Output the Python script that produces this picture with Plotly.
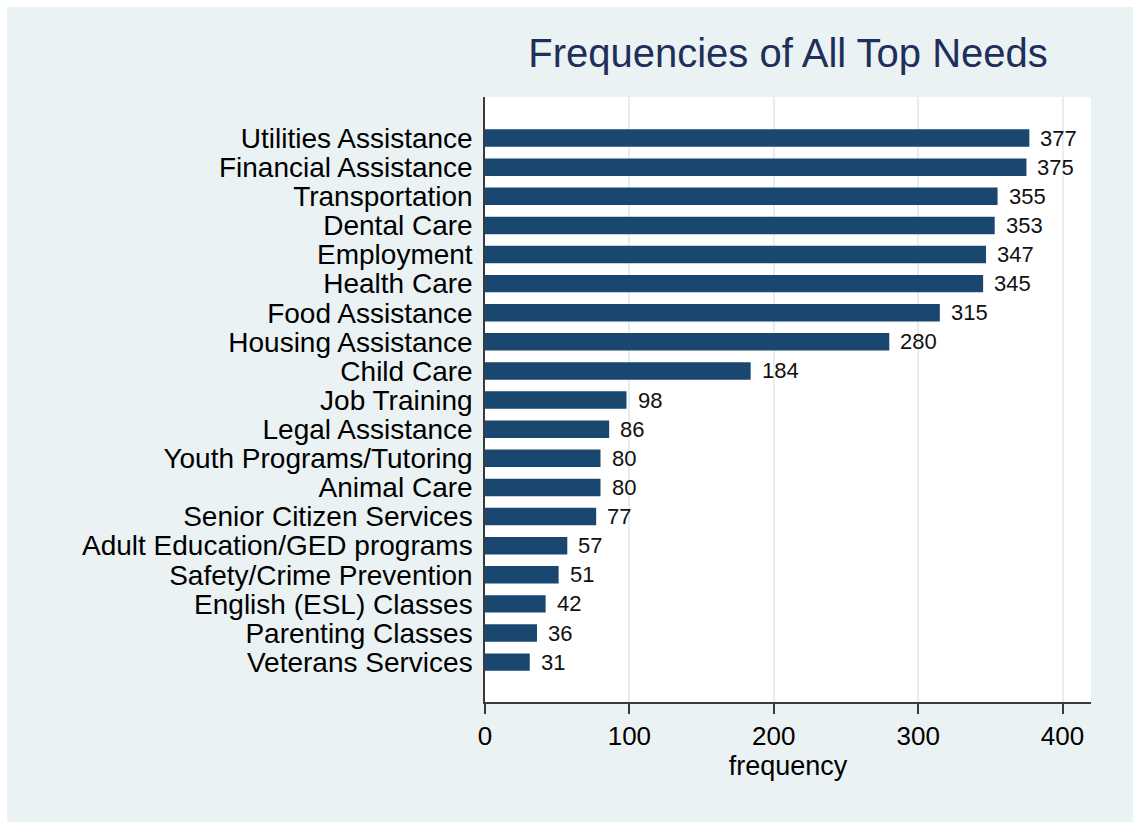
import plotly.graph_objects as go

# Needs listed from most to least frequent
needs = [
    "Utilities Assistance", "Financial Assistance", "Transportation", "Dental Care",
    "Employment", "Health Care", "Food Assistance", "Housing Assistance", "Child Care",
    "Job Training", "Legal Assistance", "Youth Programs/Tutoring", "Animal Care",
    "Senior Citizen Services", "Adult Education/GED programs", "Safety/Crime Prevention",
    "English (ESL) Classes", "Parenting Classes", "Veterans Services",
]
frequency = [377, 375, 355, 353, 347, 345, 315, 280, 184, 98, 86, 80, 80, 77, 57, 51, 42, 36, 31]
x_ticks = [0, 100, 200, 300, 400]

W, H = 1135, 822
L, R, T, B = 485, 44, 97, 120
BG = "#EAF2F3"
BAR = "#1A476F"
FONT = "Liberation Sans, Arial, sans-serif"

pw = W - L - R
ph = H - T - B

fig = go.Figure()
fig.add_trace(go.Bar(
    x=frequency, y=needs, orientation="h",
    marker=dict(color=BAR, line=dict(width=0)),
    width=0.6, hoverinfo="x+y",
))

# Value labels just past each bar end
for n, v in zip(needs, frequency):
    fig.add_annotation(x=v, y=n, text=str(v), showarrow=False,
                       xanchor="left", yanchor="middle", xshift=9,
                       font=dict(family=FONT, size=22, color="#111111"))

# Light outer panel with a thin white edge, and the white plot region on top
fig.add_shape(type="rect", xref="paper", yref="paper", layer="below",
              x0=(7 - L) / pw, x1=(1133 - L) / pw,
              y0=(H - B - H - 5) / ph, y1=(H - B - 7) / ph,
              fillcolor=BG, line=dict(width=0))
fig.add_shape(type="rect", xref="paper", yref="paper", layer="below",
              x0=0, x1=1, y0=0, y1=1, fillcolor="white", line=dict(width=0))

fig.update_layout(
    width=W, height=H,
    margin=dict(l=L, r=R, t=T, b=B, autoexpand=False),
    paper_bgcolor="white", plot_bgcolor="white",
    showlegend=False,
    title=dict(text="Frequencies of All Top Needs", x=0.5, xref="paper",
               y=1 - 53 / H, yref="container", yanchor="middle", xanchor="center",
               font=dict(family=FONT, size=40, color="#1E2F5A")),
    font=dict(family=FONT, color="#000000"),
    bargap=0.4,
)

fig.update_xaxes(
    range=[0, 419.7], tickvals=x_ticks, ticktext=[str(t) for t in x_ticks],
    showgrid=True, gridcolor="#E6EEF0", gridwidth=1.5, zeroline=False,
    showline=True, linecolor="#3A3A3A", linewidth=1.5,
    ticks="outside", ticklen=10, tickwidth=1.5, tickcolor="#3A3A3A",
    tickfont=dict(family=FONT, size=26, color="#000000"),
    title=dict(text="frequency", font=dict(family=FONT, size=27, color="#000000"), standoff=2),
    automargin=False, fixedrange=True,
)
fig.update_yaxes(
    categoryorder="array", categoryarray=needs,
    tickmode="array", tickvals=needs, ticktext=needs,
    range=[len(needs) - 1 + 1.37, -1.41],
    showgrid=False, zeroline=False,
    showline=True, linecolor="#3A3A3A", linewidth=1.5,
    ticks="", ticklabelstandoff=5,
    tickfont=dict(family=FONT, size=28, color="#000000"),
    automargin=False, fixedrange=True,
)

fig.write_html("out.html")
